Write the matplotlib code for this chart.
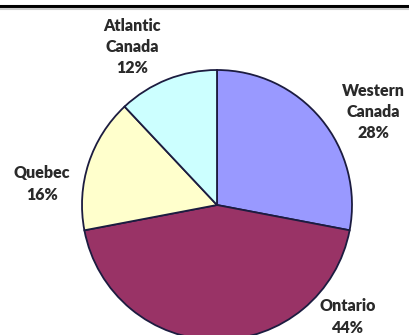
import matplotlib
matplotlib.use('Agg')
import matplotlib.pyplot as plt

regions = ['Western\nCanada', 'Ontario', 'Quebec', 'Atlantic\nCanada']
shares = [28, 44, 16, 12]
colors = ['#9999FF', '#993366', '#FFFFCC', '#CCFFFF']

# label centres in pixel coords (x, y from top)
label_pos = [(373, 112), (348, 317), (42, 184), (132, 47)]

W, H = 409, 335
fig = plt.figure(figsize=(W / 100, H / 100), dpi=100)
ax = fig.add_axes([0, 0, 1, 1])

ax.pie(shares, colors=colors, startangle=90, counterclock=False,
       center=(217, H - 205), radius=135, frame=True,
       wedgeprops=dict(edgecolor='#1c1c40', linewidth=1.3))
ax.set_xlim(0, W)
ax.set_ylim(0, H)
ax.set_aspect('equal')
ax.axis('off')

for name, val, (px, py) in zip(regions, shares, label_pos):
    ax.text(px, H - py, f'{name}\n{val}%', ha='center', va='center',
            fontsize=11.5, fontweight='heavy', family='Lato', color='#2a2a2a',
            linespacing=1.4)

# top rule (title of the original is cropped away)
ax.axhline(H - 6, color='black', linewidth=2.2)
ax.axhline(H - 9, color='#cccccc', linewidth=1.5)

fig.savefig('out.png', dpi=100)
